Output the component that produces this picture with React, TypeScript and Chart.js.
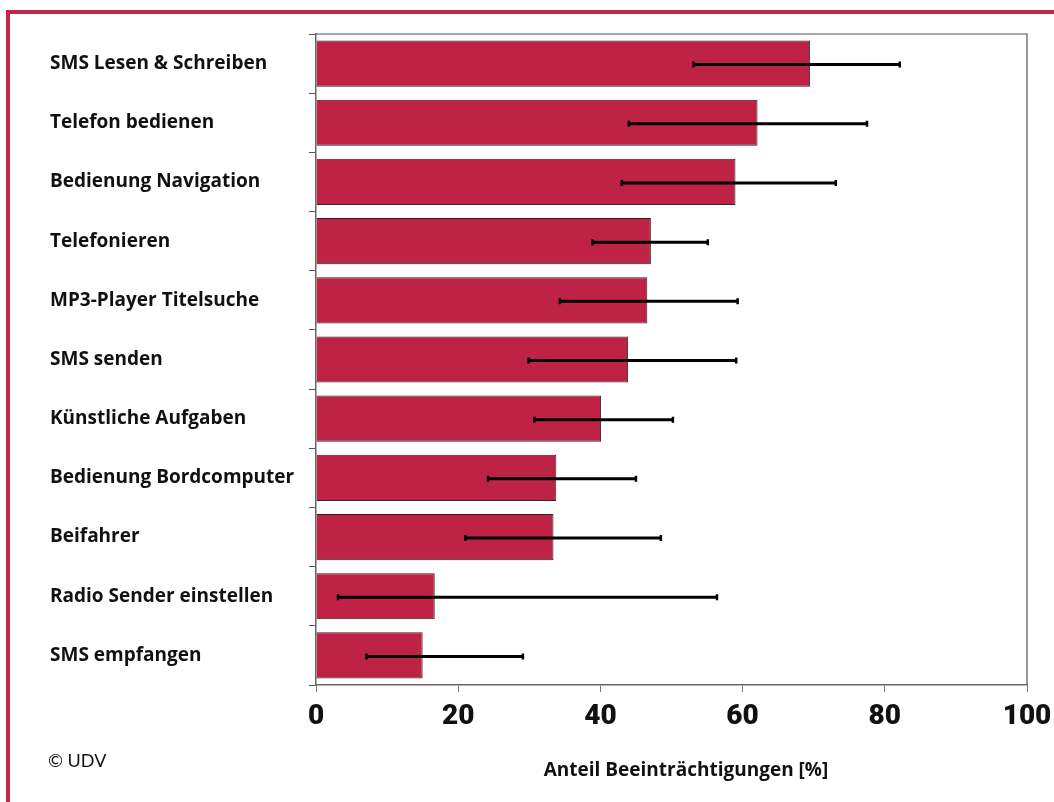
import React, { useEffect, useRef } from "react";
import { Chart, registerables } from "chart.js";

Chart.register(...registerables);

const categories = [
  "SMS Lesen & Schreiben",
  "Telefon bedienen",
  "Bedienung Navigation",
  "Telefonieren",
  "MP3-Player Titelsuche",
  "SMS senden",
  "Künstliche Aufgaben",
  "Bedienung Bordcomputer",
  "Beifahrer",
  "Radio Sender einstellen",
  "SMS empfangen",
];
const values = [69.5, 62.1, 59.0, 47.1, 46.6, 43.9, 40.1, 33.8, 33.4, 16.7, 15.0];
const errLow = [53.1, 44.0, 43.0, 38.9, 34.3, 29.9, 30.7, 24.2, 21.0, 3.1, 7.1];
const errHigh = [82.1, 77.5, 73.1, 55.1, 59.3, 59.1, 50.2, 45.0, 48.5, 56.4, 29.1];
const xTicks = [0, 20, 40, 60, 80, 100];
const xTitle = "Anteil Beeinträchtigungen [%]";
const credit = "© UDV";

const RED = "rgb(190,35,69)";
const FRAME = "rgb(193,39,72)";

export default function App() {
  const ref = useRef<HTMLCanvasElement>(null);

  useEffect(() => {
    const canvas = ref.current;
    if (!canvas) return;

    const errorBars = {
      id: "errorBars",
      afterDatasetsDraw(chart: any) {
        const { ctx, scales } = chart;
        const xs = scales.x;
        const ys = scales.y;
        ctx.save();
        ctx.strokeStyle = "#000";
        categories.forEach((_, i) => {
          const y = ys.getPixelForValue(i) + 1;
          const x1 = xs.getPixelForValue(errLow[i]);
          const x2 = xs.getPixelForValue(errHigh[i]);
          ctx.lineWidth = 3;
          ctx.beginPath();
          ctx.moveTo(x1, y);
          ctx.lineTo(x2, y);
          ctx.stroke();
          ctx.lineWidth = 2.5;
          ctx.beginPath();
          ctx.moveTo(x1, y - 3);
          ctx.lineTo(x1, y + 3);
          ctx.moveTo(x2, y - 3);
          ctx.lineTo(x2, y + 3);
          ctx.stroke();
        });
        ctx.restore();
      },
    };

    const frameAndText = {
      id: "frameAndText",
      beforeDatasetsDraw(chart: any) {
        const { ctx, chartArea } = chart;
        ctx.save();
        ctx.strokeStyle = "#555";
        ctx.lineWidth = 1.2;
        ctx.beginPath();
        ctx.moveTo(chartArea.left, chartArea.top);
        ctx.lineTo(chartArea.right, chartArea.top);
        ctx.lineTo(chartArea.right, chartArea.bottom);
        ctx.stroke();
        ctx.restore();
      },
      afterDraw(chart: any) {
        const { ctx } = chart;
        ctx.save();
        ctx.fillStyle = "#111";
        ctx.textBaseline = "middle";
        ctx.font = "bold 19px 'Open Sans'";
        ctx.textAlign = "center";
        ctx.fillText(xTitle, 686, 771);
        ctx.font = "18px Lato";
        ctx.textAlign = "left";
        ctx.fillText(credit, 48, 761);
        ctx.restore();
      },
    };

    const chart = new Chart(canvas, {
      type: "bar",
      data: {
        labels: categories,
        datasets: [
          {
            data: values,
            backgroundColor: RED,
            borderColor: "#2e2226",
            borderWidth: 1,
            barPercentage: 0.78,
            categoryPercentage: 1,
          },
        ],
      },
      options: {
        indexAxis: "y",
        animation: false,
        responsive: false,
        devicePixelRatio: 1,
        layout: { padding: { left: 50, right: 27, top: 34, bottom: 0 } },
        plugins: { legend: { display: false }, tooltip: { enabled: false } },
        scales: {
          x: {
            min: 0,
            max: 100,
            afterBuildTicks(scale: any) {
              scale.ticks = xTicks.map((v) => ({ value: v }));
            },
            afterFit(scale: any) {
              scale.height = 117;
              scale.paddingRight = 0;
              scale.paddingLeft = 0;
            },
            grid: {
              drawOnChartArea: false,
              drawTicks: true,
              tickLength: 7,
              color: "#777",
            },
            border: { color: "#666", width: 1.5 },
            ticks: {
              color: "#111",
              padding: 8,
              font: { family: "Roboto", weight: "900", size: 28 },
            },
          },
          y: {
            afterFit(scale: any) {
              scale.width = 266;
            },
            grid: {
              drawOnChartArea: false,
              drawTicks: true,
              tickLength: 7,
              offset: true,
              color: "#555",
            },
            border: { color: "#666", width: 1.5 },
            ticks: {
              crossAlign: "far",
              color: "#111",
              font: { family: "'Open Sans'", weight: "bold", size: 19 },
            },
          },
        },
      },
      plugins: [errorBars, frameAndText],
    });

    return () => chart.destroy();
  }, []);

  return (
    <div style={{ position: "fixed", left: 0, top: 0, width: 1054, height: 802, background: "#fff" }}>
      <div
        style={{
          position: "absolute",
          left: 6,
          top: 10,
          right: 0,
          bottom: 0,
          borderLeft: `4px solid ${FRAME}`,
          borderTop: `4px solid ${FRAME}`,
        }}
      />
      <canvas ref={ref} width={1054} height={802} style={{ position: "absolute", left: 0, top: 0 }} />
    </div>
  );
}
